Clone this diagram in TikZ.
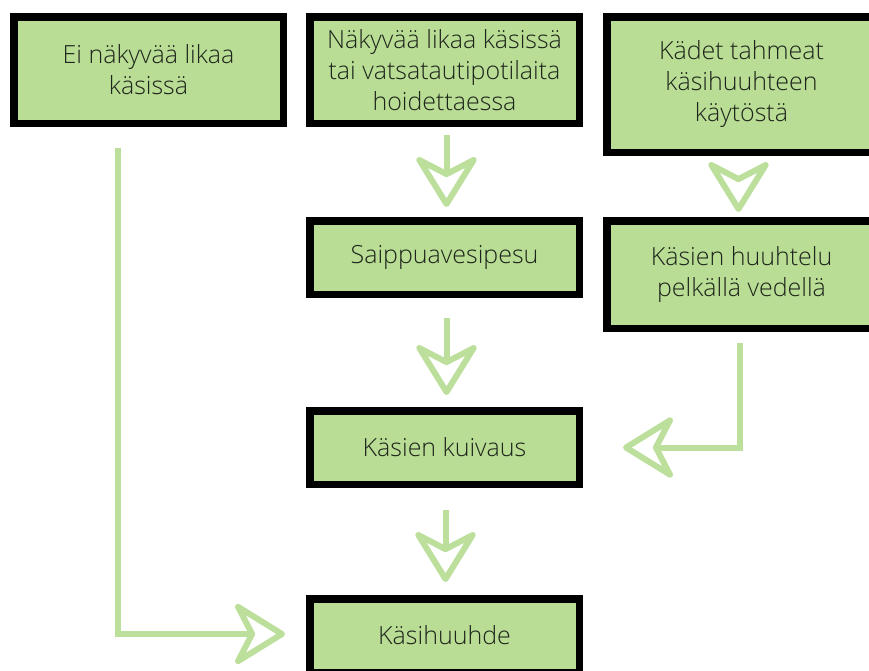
\documentclass[tikz,border=0pt]{standalone}
\usepackage{fontspec}
\setmainfont{Open Sans}[UprightFont=* Light]
\usetikzlibrary{arrows.meta}
\definecolor{boxgreen}{HTML}{B9DD94}
\definecolor{arrgreen}{HTML}{BCE09C}
\definecolor{txt}{HTML}{1E251C}
\tikzset{
  box/.style={draw=black, line width=7.5pt, fill=boxgreen, minimum width=269.5pt, inner sep=0pt, align=center, text=txt, font=\fontsize{25}{31}\selectfont},
  flow/.style={draw=arrgreen, line width=6pt, -{Stealth[open, round, length=57pt, width=70pt, inset=18pt]}}
}
\begin{document}
\begin{tikzpicture}[x=1pt, y=-1pt]
\clip (0,0) rectangle (869,670);
\fill[white] (0,0) rectangle (869,670);
\node[box, minimum height=106.5pt] (b1) at (148.5,70) {Ei näkyvää likaa\\käsissä};
\node[box, minimum height=106.5pt] (b2) at (444.5,70) {Näkyvää likaa käsissä\\tai vatsatautipotilaita\\hoidettaessa};
\node[box, minimum height=135.5pt] (b3) at (741.5,84.5) {Kädet tahmeat\\käsihuuhteen\\käytöstä};
\node[box, minimum height=73.5pt] (b4) at (444.5,257.5) {Saippuavesipesu};
\node[box, minimum height=107.5pt] (b5) at (741.5,274.5) {Käsien huuhtelu\\pelkällä vedellä};
\node[box, minimum height=73.5pt] (b6) at (444.5,447.5) {Käsien kuivaus};
\node[box, minimum height=73.5pt] (b7) at (444.5,635.5) {Käsihuuhde};

\draw[flow, shorten <=8pt, shorten >=10pt] ([xshift=2pt]b2.south) -- ([xshift=2pt]b4.north);
\draw[flow, shorten <=20pt, shorten >=12pt] ([xshift=2pt]b4.south) -- ([xshift=2pt]b6.north);
\draw[flow, shorten <=22pt, shorten >=13pt] ([xshift=1pt]b6.south) -- ([xshift=1pt]b7.north);
\draw[flow, shorten <=22pt, shorten >=5pt] ([xshift=-3pt]b3.south) -- ([xshift=-3pt]b5.north);
\draw[flow, shorten <=11pt, shorten >=40pt] ([xshift=-1.5pt]b5.south) |- (b6.east);
\draw[flow, shorten <=21pt, shorten >=21pt] ([xshift=-30.5pt]b1.south) |- ([yshift=1.5pt]b7.west);
\end{tikzpicture}
\end{document}
